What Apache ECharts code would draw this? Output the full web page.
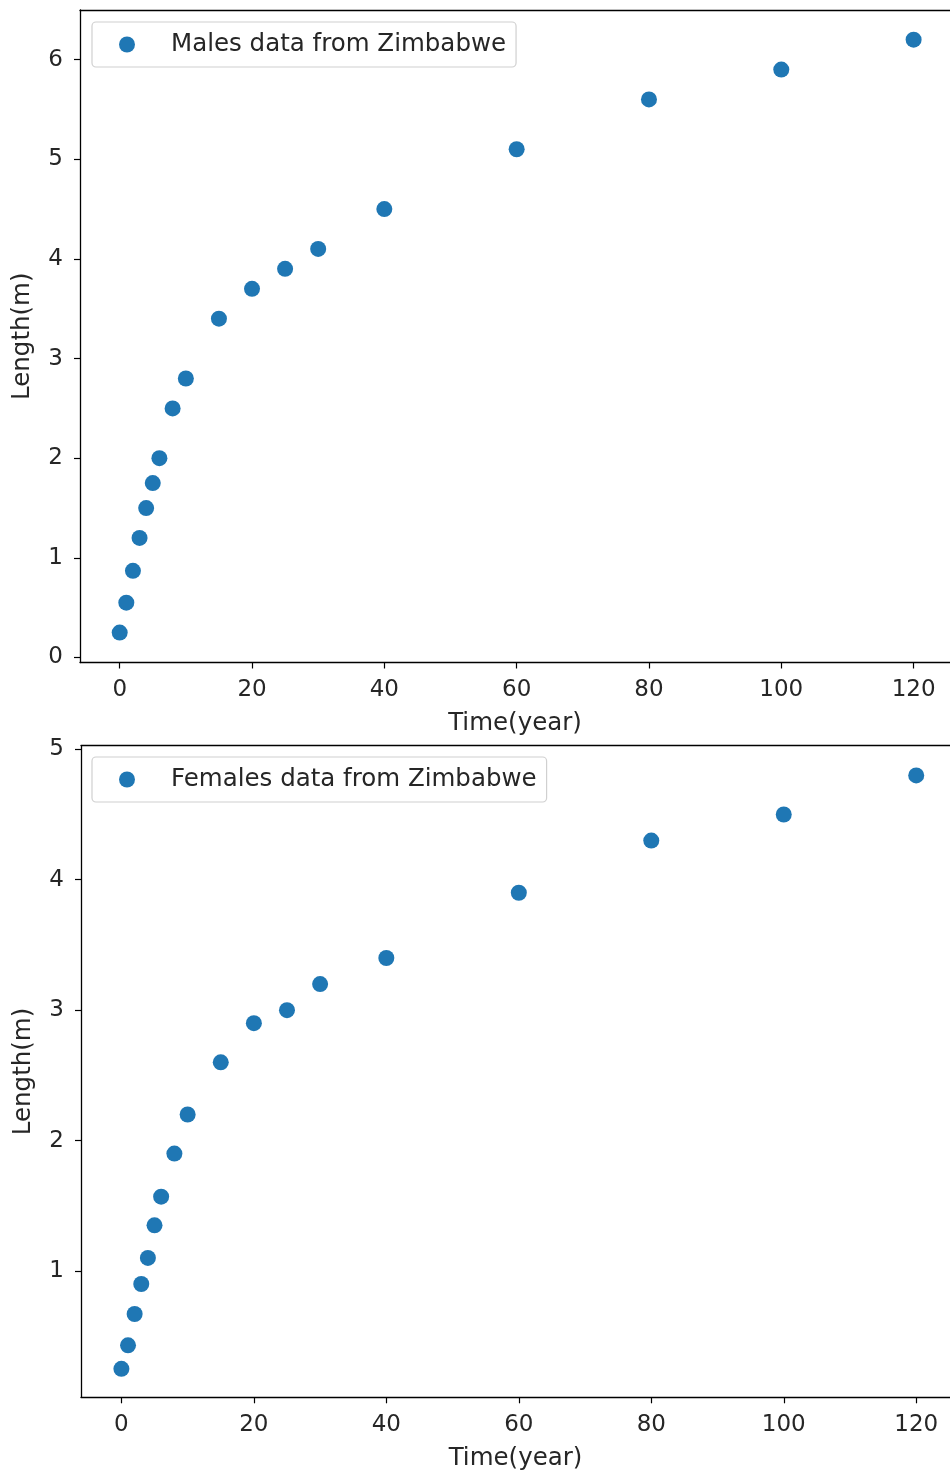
<!DOCTYPE html>
<html lang="en" style="height: 100%">
<head>
  <meta charset="utf-8">
</head>
<body style="height: 100%; margin: 0; background: #fff">
  <div id="container" style="width: 950px; height: 1479px"></div>
  <script type="text/javascript" src="https://cdn.jsdelivr.net/npm/echarts@6/dist/echarts.min.js"></script>
  <script type="text/javascript">
    // ages (years) and lengths (m)
    var years = [0, 1, 2, 3, 4, 5, 6, 8, 10, 15, 20, 25, 30, 40, 60, 80, 100, 120];
    var malesLength = [0.25, 0.55, 0.87, 1.2, 1.5, 1.75, 2.0, 2.5, 2.8, 3.4, 3.7, 3.9, 4.1, 4.5, 5.1, 5.6, 5.9, 6.2];
    var femalesLength = [0.25, 0.43, 0.67, 0.9, 1.1, 1.35, 1.57, 1.9, 2.2, 2.6, 2.9, 3.0, 3.2, 3.4, 3.9, 4.3, 4.5, 4.8];
    var xTicks = [0, 20, 40, 60, 80, 100, 120];
    var yTicksTop = [0, 1, 2, 3, 4, 5, 6];
    var yTicksBottom = [1, 2, 3, 4, 5];

    var font = 'DejaVu Sans';
    var textColor = '#262626';
    var blue = '#1f77b4';
    var spine = { color: '#000', width: 1.3 };

    function pairs(xs, ys) {
      return xs.map(function (x, i) { return [x, ys[i]]; });
    }

    function xAxis(idx, min, max) {
      return {
        type: 'value', gridIndex: idx, min: min, max: max,
        name: 'Time(year)', nameLocation: 'middle', nameGap: 49,
        nameTextStyle: { fontFamily: font, fontSize: 24.5, color: textColor },
        axisLine: { show: true, onZero: false, lineStyle: spine },
        axisTick: { show: true, customValues: xTicks, length: 6, lineStyle: { color: '#000', width: 1.2 } },
        axisLabel: { customValues: xTicks, fontFamily: font, fontSize: 23, color: textColor, margin: 16 },
        splitLine: { show: false }
      };
    }

    // top spine only
    function xAxisTop(idx, min, max) {
      return {
        type: 'value', gridIndex: idx, min: min, max: max, position: 'top',
        axisLine: { show: true, onZero: false, lineStyle: spine },
        axisTick: { show: false }, axisLabel: { show: false }, splitLine: { show: false }
      };
    }

    function yAxis(idx, min, max, ticks) {
      return {
        type: 'value', gridIndex: idx, min: min, max: max,
        name: 'Length(m)', nameLocation: 'middle', nameGap: 45,
        nameTextStyle: { fontFamily: font, fontSize: 24.5, color: textColor },
        axisLine: { show: true, onZero: false, lineStyle: spine },
        axisTick: { show: true, customValues: ticks, length: 6, lineStyle: { color: '#000', width: 1.2 } },
        axisLabel: { customValues: ticks, fontFamily: font, fontSize: 23, color: textColor, margin: 17 },
        splitLine: { show: false }
      };
    }

    function legend(name, top) {
      return {
        data: [name], left: 92, top: top, orient: 'horizontal',
        icon: 'circle', itemWidth: 16, itemHeight: 16, itemGap: 0,
        borderColor: '#d0d0d0', borderWidth: 1.2, borderRadius: 4,
        padding: [10, 10, 10, 27],
        textStyle: { fontFamily: font, fontSize: 24.5, color: textColor, padding: [0, 0, 0, 31] }
      };
    }

    var dom = document.getElementById('container');
    var myChart = echarts.init(dom, null, { renderer: 'canvas' });

    var option = {
      animation: false,
      backgroundColor: '#fff',
      legend: [legend('Males data from Zimbabwe', 22), legend('Females data from Zimbabwe', 757)],
      grid: [
        { left: 80, top: 10, right: 0, height: 652.5, containLabel: false },
        { left: 81, top: 745.7, right: 0, height: 651.6, containLabel: false }
      ],
      xAxis: [xAxis(0, -6, 125.5), xAxis(1, -6.1, 125.1), xAxisTop(0, -6, 125.5), xAxisTop(1, -6.1, 125.1)],
      yAxis: [yAxis(0, -0.05, 6.4975, yTicksTop), yAxis(1, 0.0314, 5.0276, yTicksBottom)],
      series: [
        {
          name: 'Males data from Zimbabwe', type: 'scatter', xAxisIndex: 0, yAxisIndex: 0,
          data: pairs(years, malesLength), symbolSize: 16, itemStyle: { color: blue, opacity: 1 }
        },
        {
          name: 'Females data from Zimbabwe', type: 'scatter', xAxisIndex: 1, yAxisIndex: 1,
          data: pairs(years, femalesLength), symbolSize: 16, itemStyle: { color: blue, opacity: 1 }
        }
      ]
    };

    myChart.setOption(option);
  </script>
</body>
</html>
